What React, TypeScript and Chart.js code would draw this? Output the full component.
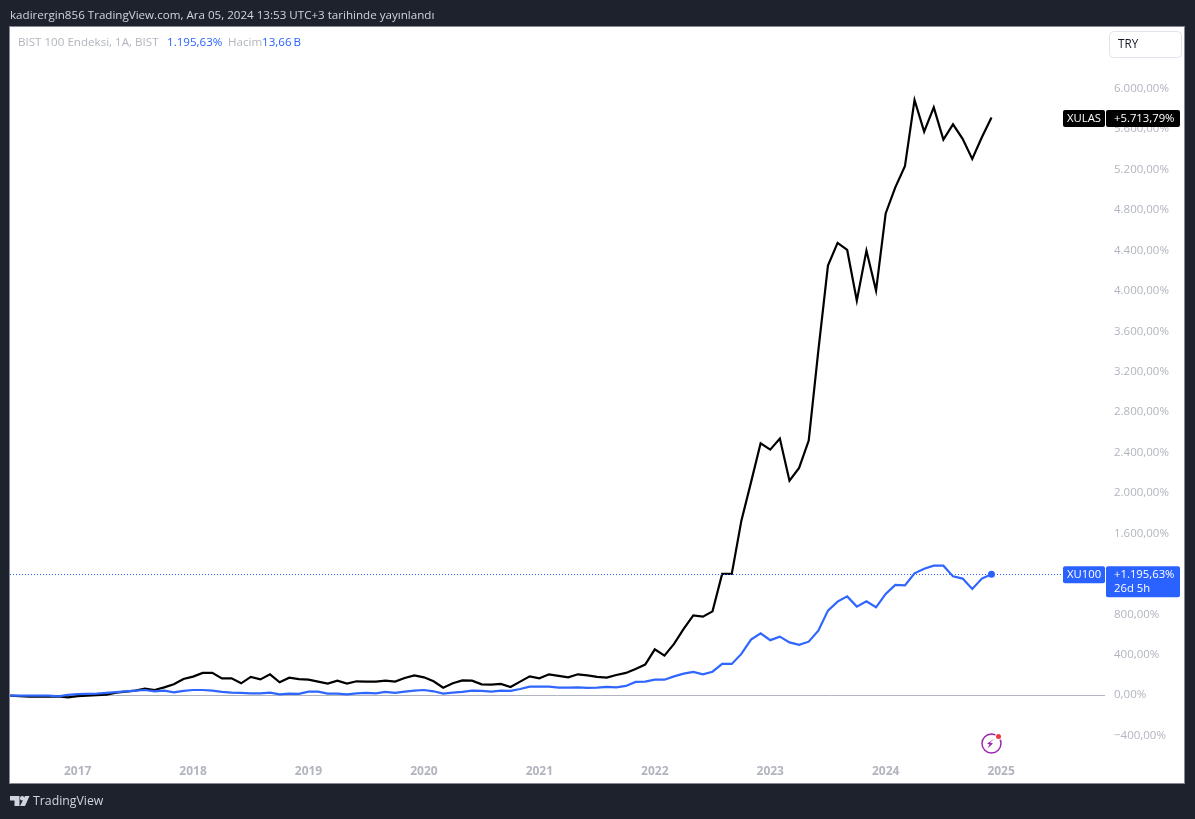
import React, { useEffect, useRef } from "react";
import { Chart, registerables } from "chart.js";

Chart.register(...registerables);

const FONT = '"Open Sans", "Noto Sans", sans-serif';

const firstYear = 2016;
const firstMonth = 6;

const xu100: number[] = [
  -5, -5, -5, -5, -5, -12, 2,
  10, 13, 15, 22, 30, 38, 45, 51, 38, 45, 28, 42,
  51, 51, 45, 32, 25, 22, 18, 18, 25, 8, 15, 12,
  35, 35, 15, 15, 8, 18, 22, 18, 32, 22, 35, 45,
  51, 38, 15, 25, 32, 45, 42, 35, 45, 42, 61, 84,
  84, 84, 74, 74, 77, 71, 74, 81, 77, 91, 131, 134,
  153, 153, 186, 213, 230, 206, 232, 309, 309, 408, 549, 611,
  544, 579, 522, 497, 529, 638, 836, 925, 977, 876, 928, 869,
  1001, 1090, 1086, 1205, 1251, 1281, 1281, 1175, 1153, 1051, 1153, 1195.63,
];

const xulas: number[] = [
  -5, -10, -15, -15, -15, -13, -22,
  -10, -5, 0, 5, 25, 35, 45, 64, 51, 77, 107, 160,
  183, 220, 220, 166, 166, 117, 180, 156, 206, 127, 173, 158,
  153, 134, 114, 143, 114, 137, 134, 134, 143, 134, 170, 196,
  176, 137, 74, 117, 146, 143, 107, 104, 111, 81, 134, 186,
  166, 206, 190, 176, 206, 196, 180, 173, 199, 220, 259, 302,
  453, 391, 507, 655, 789, 777, 829, 1199, 1199, 1726, 2105, 2491,
  2429, 2538, 2122, 2248, 2518, 3408, 4249, 4474, 4404, 3903, 4398, 4002,
  4766, 5024, 5232, 5888, 5575, 5815, 5496, 5647, 5503, 5305, 5519, 5713.79,
];

const yearTicks: number[] = [2017, 2018, 2019, 2020, 2021, 2022, 2023, 2024, 2025];
const percentTicks: number[] = [
  -400, 0, 400, 800, 1200, 1600, 2000, 2400, 2800, 3200, 3600, 4000, 4400, 4800, 5200, 5600, 6000,
];
const headerText = "kadirergin856 TradingView.com, Ara 05, 2024 13:53 UTC+3 tarihinde yayınlandı";
const seriesNames = ["XU100", "XULAS"];
const valueTags = ["+1.195,63%", "+5.713,79%"];
const countdown = "26d 5h";

const BG = "#1e222d";
const GRAY = "#b2b5be";
const BLUE = "#2962ff";

const monthIndexOfYear = (y: number) => (y - firstYear) * 12 - (firstMonth - 1);
const formatPct = (v: number) => {
  const abs = Math.abs(v).toLocaleString("de-DE", { minimumFractionDigits: 2, maximumFractionDigits: 2 });
  return (v < 0 ? "\u2212" : "") + abs + "%";
};

function text(ctx: CanvasRenderingContext2D, s: string, x: number, y: number, color: string, font: string) {
  ctx.fillStyle = color;
  ctx.font = font;
  ctx.textAlign = "left";
  ctx.textBaseline = "middle";
  ctx.fillText(s, x, y);
}

function roundRect(ctx: CanvasRenderingContext2D, x: number, y: number, w: number, h: number, r: number, fill: string) {
  ctx.beginPath();
  ctx.roundRect(x, y, w, h, r);
  ctx.fillStyle = fill;
  ctx.fill();
}

const framePlugin = {
  id: "frame",
  beforeDraw(chart: any) {
    const ctx = chart.ctx as CanvasRenderingContext2D;
    ctx.save();
    ctx.fillStyle = BG;
    ctx.fillRect(0, 0, chart.width, chart.height);
    ctx.fillStyle = "#ffffff";
    ctx.fillRect(10, 27, 1174, 756);
    ctx.strokeStyle = "#868993";
    ctx.lineWidth = 1;
    ctx.strokeRect(9.5, 26.5, 1175, 757);
    ctx.restore();
  },
  afterDraw(chart: any) {
    const ctx = chart.ctx as CanvasRenderingContext2D;
    const yS = chart.scales.y;
    const fTag = `11.3px ${FONT}`;
    ctx.save();

    text(ctx, headerText, 10, 15.5, "#d1d4dc", `11.6px ${FONT}`);

    const fLegend = `11.6px ${FONT}`;
    text(ctx, "BIST 100 Endeksi, 1A, BIST", 18, 42.5, GRAY, fLegend);
    text(ctx, "1.195,63%", 167, 42.5, BLUE, fLegend);
    text(ctx, "Hacim", 228, 42.5, GRAY, fLegend);
    text(ctx, "13,66\u2009B", 262, 42.5, BLUE, fLegend);

    ctx.beginPath();
    ctx.roundRect(1109.5, 31.5, 72, 26, 4);
    ctx.strokeStyle = "#e0e3eb";
    ctx.stroke();
    text(ctx, "TRY", 1118, 45, "#131722", `11.7px ${FONT}`);

    const yBlack = yS.getPixelForValue(xulas[xulas.length - 1]);
    roundRect(ctx, 1063, yBlack - 7.5, 42, 17, 2, "#000000");
    roundRect(ctx, 1106, yBlack - 7.5, 74, 17, 2, "#000000");
    text(ctx, seriesNames[1], 1067, yBlack + 1, "#ffffff", fTag);
    text(ctx, valueTags[1], 1114, yBlack + 1, "#ffffff", fTag);

    const yBlue = yS.getPixelForValue(xu100[xu100.length - 1]);
    ctx.beginPath();
    ctx.setLineDash([1, 2]);
    ctx.strokeStyle = BLUE;
    ctx.moveTo(10, Math.round(yBlue) + 0.5);
    ctx.lineTo(1063, Math.round(yBlue) + 0.5);
    ctx.stroke();
    ctx.setLineDash([]);
    roundRect(ctx, 1063, yBlue - 8, 42, 17, 2, BLUE);
    roundRect(ctx, 1106, yBlue - 8, 74, 31, 2, BLUE);
    text(ctx, seriesNames[0], 1067, yBlue + 0.5, "#ffffff", fTag);
    text(ctx, valueTags[0], 1114, yBlue + 0.5, "#ffffff", fTag);
    text(ctx, countdown, 1114, yBlue + 14, "#ffffff", fTag);

    // lightning badge
    ctx.beginPath();
    ctx.arc(991.5, 743.5, 9.5, 0, Math.PI * 2);
    ctx.strokeStyle = "#9c27b0";
    ctx.lineWidth = 1.5;
    ctx.stroke();
    ctx.beginPath();
    ctx.moveTo(995, 738.5);
    ctx.lineTo(990, 742.5);
    ctx.lineTo(993, 743.5);
    ctx.lineTo(987.5, 748.5);
    ctx.lineTo(989.5, 744.5);
    ctx.lineTo(987, 743.5);
    ctx.closePath();
    ctx.fillStyle = "#9c27b0";
    ctx.fill();
    ctx.beginPath();
    ctx.arc(998.5, 736.5, 3.5, 0, Math.PI * 2);
    ctx.fillStyle = "#ffffff";
    ctx.fill();
    ctx.beginPath();
    ctx.arc(998.5, 736.5, 2.5, 0, Math.PI * 2);
    ctx.fillStyle = "#f23645";
    ctx.fill();

    // footer logo
    ctx.fillStyle = "#d1d4dc";
    ctx.beginPath();
    ctx.moveTo(10, 796);
    ctx.lineTo(19.5, 796);
    ctx.lineTo(19.5, 806);
    ctx.lineTo(14.5, 806);
    ctx.lineTo(14.5, 800.5);
    ctx.lineTo(10, 800.5);
    ctx.closePath();
    ctx.fill();
    ctx.beginPath();
    ctx.arc(22.2, 798.2, 2.2, 0, Math.PI * 2);
    ctx.fill();
    ctx.beginPath();
    ctx.moveTo(25, 796);
    ctx.lineTo(29.5, 796);
    ctx.lineTo(25, 806);
    ctx.lineTo(20, 806);
    ctx.closePath();
    ctx.fill();
    text(ctx, "TradingView", 33, 801.5, "#d1d4dc", `12.3px ${FONT}`);

    ctx.restore();
  },
};

export default function App() {
  const ref = useRef<HTMLCanvasElement | null>(null);
  useEffect(() => {
    document.body.style.margin = "0";
    document.body.style.background = BG;
    const chart = new Chart(ref.current as HTMLCanvasElement, {
      type: "line",
      data: {
        datasets: [
          {
            label: seriesNames[0],
            data: xu100.map((y, x) => ({ x, y })),
            borderColor: "#2f66ff",
            backgroundColor: BLUE,
            borderWidth: 2.2,
            tension: 0,
            pointRadius: (c: any) => (c.dataIndex === xu100.length - 1 ? 3.5 : 0),
            pointBorderWidth: 0,
          },
          {
            label: seriesNames[1],
            data: xulas.map((y, x) => ({ x, y })),
            borderColor: "#000000",
            borderWidth: 2.2,
            tension: 0,
            pointRadius: 0,
          },
        ],
      },
      options: {
        responsive: false,
        animation: false,
        devicePixelRatio: 1,
        layout: { padding: { left: 10, right: 11, top: 27, bottom: 36 } },
        plugins: { legend: { display: false }, tooltip: { enabled: false } },
        scales: {
          x: {
            type: "linear",
            min: -0.03,
            max: 113.8,
            grid: { display: false, drawTicks: false },
            border: { display: false },
            afterFit: (s: any) => {
              s.height = 26;
            },
            afterBuildTicks: (s: any) => {
              s.ticks = yearTicks.map((y) => ({ value: monthIndexOfYear(y) }));
            },
            ticks: {
              autoSkip: false,
              maxRotation: 0,
              padding: 7,
              color: GRAY,
              font: { family: FONT, size: 12, weight: "bold" },
              callback: (v: any) => String(firstYear + (Number(v) + firstMonth - 1) / 12),
            },
          },
          y: {
            position: "right",
            min: -612,
            max: 6610,
            grid: {
              drawTicks: false,
              lineWidth: 1,
              color: (c: any) => (c.tick && c.tick.value === 0 ? GRAY : "transparent"),
            },
            border: { display: false },
            afterFit: (s: any) => {
              s.width = 79;
            },
            afterBuildTicks: (s: any) => {
              s.ticks = percentTicks.map((value) => ({ value }));
            },
            ticks: {
              autoSkip: false,
              crossAlign: "near",
              padding: 9,
              color: GRAY,
              font: { family: FONT, size: 11.5 },
              callback: (v: any) => formatPct(Number(v)),
            },
          },
        },
      },
      plugins: [framePlugin],
    } as any);
    return () => chart.destroy();
  }, []);
  return <canvas ref={ref} width={1195} height={819} style={{ display: "block" }} />;
}
